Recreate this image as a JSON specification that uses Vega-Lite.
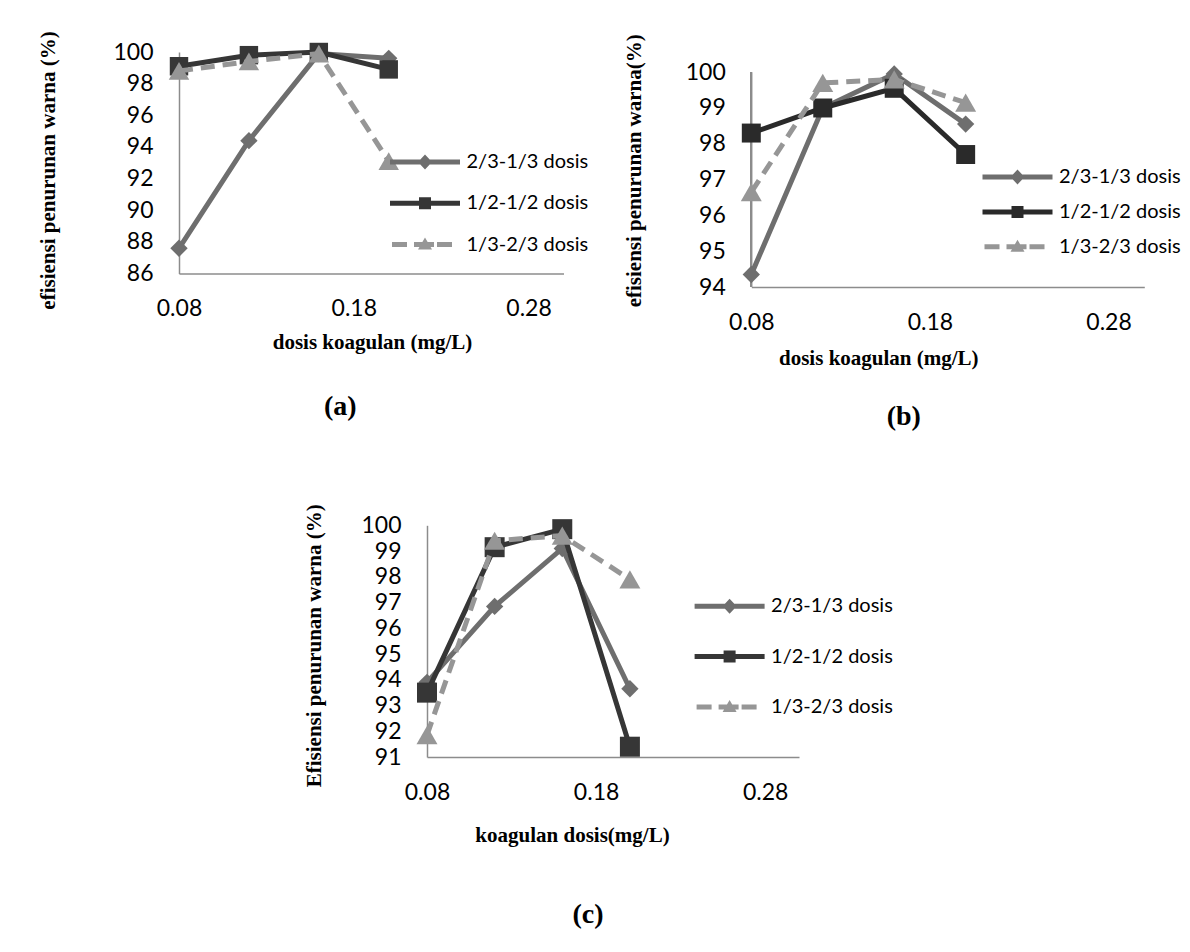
{
  "$schema": "https://vega.github.io/schema/vega-lite/v6.json",
  "background": "white",
  "padding": {"left": 36, "top": 30, "right": 5, "bottom": 5},
  "datasets": {
    "d": [
      {"panel": "a", "series": "2/3-1/3 dosis", "x": 0.08, "y": 87.6},
      {"panel": "a", "series": "2/3-1/3 dosis", "x": 0.12, "y": 94.4},
      {"panel": "a", "series": "2/3-1/3 dosis", "x": 0.16, "y": 99.9},
      {"panel": "a", "series": "2/3-1/3 dosis", "x": 0.20, "y": 99.6},
      {"panel": "a", "series": "1/2-1/2 dosis", "x": 0.08, "y": 99.1},
      {"panel": "a", "series": "1/2-1/2 dosis", "x": 0.12, "y": 99.8},
      {"panel": "a", "series": "1/2-1/2 dosis", "x": 0.16, "y": 100.0},
      {"panel": "a", "series": "1/2-1/2 dosis", "x": 0.20, "y": 98.9},
      {"panel": "a", "series": "1/3-2/3 dosis", "x": 0.08, "y": 98.8},
      {"panel": "a", "series": "1/3-2/3 dosis", "x": 0.12, "y": 99.4},
      {"panel": "a", "series": "1/3-2/3 dosis", "x": 0.16, "y": 99.9},
      {"panel": "a", "series": "1/3-2/3 dosis", "x": 0.20, "y": 93.1},
      {"panel": "b", "series": "2/3-1/3 dosis", "x": 0.08, "y": 94.35},
      {"panel": "b", "series": "2/3-1/3 dosis", "x": 0.12, "y": 99.0},
      {"panel": "b", "series": "2/3-1/3 dosis", "x": 0.16, "y": 99.95},
      {"panel": "b", "series": "2/3-1/3 dosis", "x": 0.20, "y": 98.55},
      {"panel": "b", "series": "1/2-1/2 dosis", "x": 0.08, "y": 98.3},
      {"panel": "b", "series": "1/2-1/2 dosis", "x": 0.12, "y": 99.0},
      {"panel": "b", "series": "1/2-1/2 dosis", "x": 0.16, "y": 99.55},
      {"panel": "b", "series": "1/2-1/2 dosis", "x": 0.20, "y": 97.7},
      {"panel": "b", "series": "1/3-2/3 dosis", "x": 0.08, "y": 96.65},
      {"panel": "b", "series": "1/3-2/3 dosis", "x": 0.12, "y": 99.7},
      {"panel": "b", "series": "1/3-2/3 dosis", "x": 0.16, "y": 99.8},
      {"panel": "b", "series": "1/3-2/3 dosis", "x": 0.20, "y": 99.15},
      {"panel": "c", "series": "2/3-1/3 dosis", "x": 0.08, "y": 93.9},
      {"panel": "c", "series": "2/3-1/3 dosis", "x": 0.12, "y": 96.85},
      {"panel": "c", "series": "2/3-1/3 dosis", "x": 0.16, "y": 99.1},
      {"panel": "c", "series": "2/3-1/3 dosis", "x": 0.20, "y": 93.65},
      {"panel": "c", "series": "1/2-1/2 dosis", "x": 0.08, "y": 93.5},
      {"panel": "c", "series": "1/2-1/2 dosis", "x": 0.12, "y": 99.15},
      {"panel": "c", "series": "1/2-1/2 dosis", "x": 0.16, "y": 99.85},
      {"panel": "c", "series": "1/2-1/2 dosis", "x": 0.20, "y": 91.4},
      {"panel": "c", "series": "1/3-2/3 dosis", "x": 0.08, "y": 91.85},
      {"panel": "c", "series": "1/3-2/3 dosis", "x": 0.12, "y": 99.4},
      {"panel": "c", "series": "1/3-2/3 dosis", "x": 0.16, "y": 99.6},
      {"panel": "c", "series": "1/3-2/3 dosis", "x": 0.20, "y": 97.9}
    ]
  },
  "columns": 2,
  "bounds": "flush",
  "spacing": {"column": 187.3, "row": 238.3},
  "resolve": {
    "scale": {"color": "independent", "shape": "independent"},
    "legend": {"color": "independent", "shape": "independent"}
  },
  "concat": [
    {
      "width": 384.5,
      "height": 221.6,
      "data": {"name": "d"},
      "transform": [{"filter": "datum.panel === 'a'"}],
      "title": {"text": "(a)", "orient": "bottom", "frame": "group", "anchor": "middle", "dx": -31, "offset": 41},
      "encoding": {
        "x": {"field": "x", "type": "quantitative", "scale": {"domain": [0.08, 0.30], "nice": false, "zero": false},
              "axis": {"values": [0.08, 0.18, 0.28], "format": ".2f", "title": "dosis koagulan (mg/L)", "titleX": 193, "titleY": 68.7, "titleAlign": "center", "titleBaseline": "middle", "titleAngle": 0}},
        "y": {"field": "y", "type": "quantitative", "scale": {"domain": [86, 100], "nice": false, "zero": false},
              "axis": {"values": [86, 88, 90, 92, 94, 96, 98, 100], "title": "efisiensi penurunan warna (%)", "titleX": -131, "titleY": 118, "titleAngle": 270, "titleAlign": "center", "titleBaseline": "middle"}}
      },
      "layer": [
        {"transform": [{"filter": "datum.series === '2/3-1/3 dosis'"}], "mark": {"type": "line", "color": "#6e6e6e", "strokeWidth": 5}, "encoding": {}},
        {"transform": [{"filter": "datum.series === '2/3-1/3 dosis'"}], "mark": {"type": "point", "shape": "diamond", "filled": true, "opacity": 1, "color": "#6e6e6e", "size": 300}, "encoding": {}},
        {"transform": [{"filter": "datum.series === '1/2-1/2 dosis'"}], "mark": {"type": "line", "color": "#363636", "strokeWidth": 5}, "encoding": {}},
        {"transform": [{"filter": "datum.series === '1/2-1/2 dosis'"}], "mark": {"type": "point", "shape": "square", "filled": true, "opacity": 1, "color": "#363636", "size": 340}, "encoding": {}},
        {"transform": [{"filter": "datum.series === '1/3-2/3 dosis'"}], "mark": {"type": "line", "color": "#969696", "strokeWidth": 5, "strokeDash": [14, 8]}, "encoding": {}},
        {"transform": [{"filter": "datum.series === '1/3-2/3 dosis'"}], "mark": {"type": "point", "shape": "triangle-up", "filled": true, "opacity": 1, "color": "#969696", "size": 420}, "encoding": {}},
        {"mark": {"type": "point", "filled": true, "opacity": 0},
         "encoding": {
           "color": {"field": "series", "type": "nominal",
                     "scale": {"domain": ["2/3-1/3 dosis", "1/2-1/2 dosis", "1/3-2/3 dosis"], "range": ["#6e6e6e", "#363636", "#969696"]},
                     "legend": {"orient": "none", "legendX": 256, "legendY": 100, "title": null, "padding": 0, "symbolSize": 400, "symbolStrokeWidth": 0, "symbolOpacity": 1, "rowPadding": 21.3, "labelOffset": 11.5}},
           "shape": {"field": "series", "type": "nominal",
                     "scale": {"domain": ["2/3-1/3 dosis", "1/2-1/2 dosis", "1/3-2/3 dosis"],
                               "range": ["M-5.5,-0.25H1.5V0.25H-5.5Z M-2,-0.75L-1.3,0L-2,0.75L-2.7,0Z",
                                         "M-5.5,-0.25H1.5V0.25H-5.5Z M-2.6,-0.6H-1.4V0.6H-2.6Z",
                                         "M-5.3,-0.25H-3.8V0.25H-5.3Z M-3.1,-0.25H-1.1V0.25H-3.1Z M-0.8,-0.25H0.7V0.25H-0.8Z M-2,-0.7L-1.3,0.5L-2.7,0.5Z"]},
                     "legend": null}
         }}
      ]
    },
    {
      "width": 393,
      "height": 235,
      "data": {"name": "d"},
      "transform": [{"filter": "datum.panel === 'b'"}],
      "title": {"text": "(b)", "orient": "bottom", "frame": "group", "anchor": "middle", "dx": -44, "offset": 35},
      "encoding": {
        "x": {"field": "x", "type": "quantitative", "scale": {"domain": [0.08, 0.30], "nice": false, "zero": false},
              "axis": {"values": [0.08, 0.18, 0.28], "format": ".2f", "title": "dosis koagulan (mg/L)", "titleX": 127, "titleY": 71.3, "titleAlign": "center", "titleBaseline": "middle", "titleAngle": 0}},
        "y": {"field": "y", "type": "quantitative", "scale": {"domain": [94, 100.564], "nice": false, "zero": false},
              "axis": {"values": [94, 95, 96, 97, 98, 99, 100], "domain": false, "title": "efisiensi penurunan warna(%)", "titleX": -117, "titleY": 118.3, "titleAngle": 270, "titleAlign": "center", "titleBaseline": "middle"}}
      },
      "layer": [
        {"mark": {"type": "rule", "strokeWidth": 1.5, "color": "#8c8c8c"},
         "encoding": {"x": {"datum": 0.08}, "y": {"datum": 94}, "y2": {"datum": 100}}},
        {"transform": [{"filter": "datum.series === '2/3-1/3 dosis'"}], "mark": {"type": "line", "color": "#6e6e6e", "strokeWidth": 5}, "encoding": {}},
        {"transform": [{"filter": "datum.series === '2/3-1/3 dosis'"}], "mark": {"type": "point", "shape": "diamond", "filled": true, "opacity": 1, "color": "#6e6e6e", "size": 300}, "encoding": {}},
        {"transform": [{"filter": "datum.series === '1/2-1/2 dosis'"}], "mark": {"type": "line", "color": "#2a2a2a", "strokeWidth": 5}, "encoding": {}},
        {"transform": [{"filter": "datum.series === '1/2-1/2 dosis'"}], "mark": {"type": "point", "shape": "square", "filled": true, "opacity": 1, "color": "#2a2a2a", "size": 360}, "encoding": {}},
        {"transform": [{"filter": "datum.series === '1/3-2/3 dosis'"}], "mark": {"type": "line", "color": "#969696", "strokeWidth": 5, "strokeDash": [14, 8]}, "encoding": {}},
        {"transform": [{"filter": "datum.series === '1/3-2/3 dosis'"}], "mark": {"type": "point", "shape": "triangle-up", "filled": true, "opacity": 1, "color": "#969696", "size": 440}, "encoding": {}},
        {"mark": {"type": "point", "filled": true, "opacity": 0},
         "encoding": {
           "color": {"field": "series", "type": "nominal",
                     "scale": {"domain": ["2/3-1/3 dosis", "1/2-1/2 dosis", "1/3-2/3 dosis"], "range": ["#6e6e6e", "#2a2a2a", "#969696"]},
                     "legend": {"orient": "none", "legendX": 276.2, "legendY": 115, "title": null, "padding": 0, "symbolSize": 400, "symbolStrokeWidth": 0, "symbolOpacity": 1, "rowPadding": 14.9, "labelOffset": 11.5}},
           "shape": {"field": "series", "type": "nominal",
                     "scale": {"domain": ["2/3-1/3 dosis", "1/2-1/2 dosis", "1/3-2/3 dosis"],
                               "range": ["M-5.5,-0.25H1.5V0.25H-5.5Z M-2,-0.75L-1.3,0L-2,0.75L-2.7,0Z",
                                         "M-5.5,-0.25H1.5V0.25H-5.5Z M-2.6,-0.6H-1.4V0.6H-2.6Z",
                                         "M-5.3,-0.25H-3.8V0.25H-5.3Z M-3.1,-0.25H-1.1V0.25H-3.1Z M-0.8,-0.25H0.7V0.25H-0.8Z M-2,-0.7L-1.3,0.5L-2.7,0.5Z"]},
                     "legend": null}
         }}
      ]
    },
    {
      "width": 372,
      "height": 231.7,
      "data": {"name": "d"},
      "transform": [{"filter": "datum.panel === 'c'"}],
      "title": {"text": "(c)", "orient": "bottom", "frame": "group", "anchor": "middle", "dx": 223, "offset": 56},
      "encoding": {
        "x": {"field": "x", "type": "quantitative", "scale": {"domain": [0.08, 0.30], "range": [248, 620], "nice": false, "zero": false},
              "axis": {"values": [0.08, 0.18, 0.28], "format": ".2f", "labelFlush": false, "title": "koagulan dosis(mg/L)", "titleX": 393, "titleY": 78.3, "titleAlign": "center", "titleBaseline": "middle", "titleAngle": 0}},
        "y": {"field": "y", "type": "quantitative", "scale": {"domain": [91, 100], "nice": false, "zero": false},
              "axis": {"values": [91, 92, 93, 94, 95, 96, 97, 98, 99, 100], "offset": -248, "title": "Efisiensi penurunan warna (%)", "titleX": -113, "titleY": 120, "titleAngle": 270, "titleAlign": "center", "titleBaseline": "middle"}}
      },
      "layer": [
        {"transform": [{"filter": "datum.series === '2/3-1/3 dosis'"}], "mark": {"type": "line", "color": "#6e6e6e", "strokeWidth": 5}, "encoding": {}},
        {"transform": [{"filter": "datum.series === '2/3-1/3 dosis'"}], "mark": {"type": "point", "shape": "diamond", "filled": true, "opacity": 1, "color": "#6e6e6e", "size": 300}, "encoding": {}},
        {"transform": [{"filter": "datum.series === '1/2-1/2 dosis'"}], "mark": {"type": "line", "color": "#363636", "strokeWidth": 5}, "encoding": {}},
        {"transform": [{"filter": "datum.series === '1/2-1/2 dosis'"}], "mark": {"type": "point", "shape": "square", "filled": true, "opacity": 1, "color": "#363636", "size": 400}, "encoding": {}},
        {"transform": [{"filter": "datum.series === '1/3-2/3 dosis'"}], "mark": {"type": "line", "color": "#969696", "strokeWidth": 5, "strokeDash": [14, 8]}, "encoding": {}},
        {"transform": [{"filter": "datum.series === '1/3-2/3 dosis'"}], "mark": {"type": "point", "shape": "triangle-up", "filled": true, "opacity": 1, "color": "#969696", "size": 440}, "encoding": {}},
        {"mark": {"type": "point", "filled": true, "opacity": 0},
         "encoding": {
           "color": {"field": "series", "type": "nominal",
                     "scale": {"domain": ["2/3-1/3 dosis", "1/2-1/2 dosis", "1/3-2/3 dosis"], "range": ["#6e6e6e", "#363636", "#969696"]},
                     "legend": {"orient": "none", "legendX": 560.6, "legendY": 71, "title": null, "padding": 0, "symbolSize": 400, "symbolStrokeWidth": 0, "symbolOpacity": 1, "rowPadding": 30.3, "labelOffset": 11.5}},
           "shape": {"field": "series", "type": "nominal",
                     "scale": {"domain": ["2/3-1/3 dosis", "1/2-1/2 dosis", "1/3-2/3 dosis"],
                               "range": ["M-5.5,-0.25H1.5V0.25H-5.5Z M-2,-0.75L-1.3,0L-2,0.75L-2.7,0Z",
                                         "M-5.5,-0.25H1.5V0.25H-5.5Z M-2.6,-0.6H-1.4V0.6H-2.6Z",
                                         "M-5.3,-0.25H-3.8V0.25H-5.3Z M-3.1,-0.25H-1.1V0.25H-3.1Z M-0.8,-0.25H0.7V0.25H-0.8Z M-2,-0.7L-1.3,0.5L-2.7,0.5Z"]},
                     "legend": null}
         }}
      ]
    }
  ],
  "config": {
    "view": {"stroke": null},
    "axis": {"domainColor": "#8c8c8c", "domainWidth": 1.5, "ticks": false, "tickSize": 0, "grid": false,
             "labelFont": "Lato", "labelFontSize": 23, "labelColor": "#000000",
             "titleFont": "Liberation Serif", "titleFontSize": 21, "titleFontWeight": "bold", "titleColor": "#000000"},
    "axisX": {"labelPadding": 24, "labelFlush": false},
    "axisY": {"labelPadding": 26},
    "legend": {"labelFont": "Lato", "labelFontSize": 20, "labelColor": "#000000", "labelLimit": 300},
    "title": {"font": "Liberation Serif", "fontSize": 28, "fontWeight": "bold", "color": "#000000"}
  }
}
